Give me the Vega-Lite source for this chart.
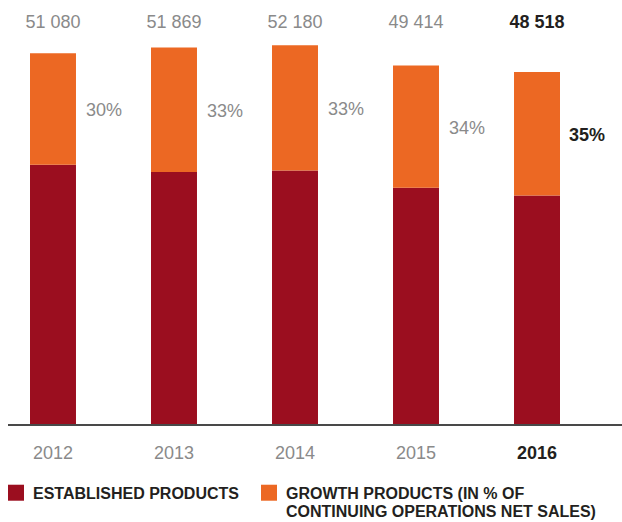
{
  "$schema": "https://vega.github.io/schema/vega-lite/v6.json",
  "autosize": "none",
  "width": 614,
  "height": 425,
  "padding": {"left": 8, "top": 0, "right": 0, "bottom": 97},
  "config": {
    "view": {"stroke": null},
    "font": "Liberation Sans",
    "text": {"font": "Liberation Sans"}
  },
  "data": {
    "values": [
      {"year": "2012", "total": 51080, "established": 35756, "growth": 15324, "totalLabel": "51 080", "share": "30%"},
      {"year": "2013", "total": 51869, "established": 34752, "growth": 17117, "totalLabel": "51 869", "share": "33%"},
      {"year": "2014", "total": 52180, "established": 34961, "growth": 17219, "totalLabel": "52 180", "share": "33%"},
      {"year": "2015", "total": 49414, "established": 32613, "growth": 16801, "totalLabel": "49 414", "share": "34%"},
      {"year": "2016", "total": 48518, "established": 31537, "growth": 16981, "totalLabel": "48 518", "share": "35%"}
    ]
  },
  "layer": [
    {
      "mark": {"type": "bar"},
      "encoding": {
        "x": {
          "field": "year",
          "type": "nominal",
          "scale": {"range": [22, 552], "paddingInner": 0.62, "paddingOuter": 0},
          "axis": {
            "title": null,
            "domain": false,
            "ticks": false,
            "labelAngle": 0,
            "labelFontSize": 18,
            "labelPadding": 19,
            "labelColor": {"condition": {"test": "datum.value == '2016'", "value": "#231f20"}, "value": "#8a8a8a"},
            "labelFontWeight": {"condition": {"test": "datum.value == '2016'", "value": "bold"}, "value": "normal"}
          }
        },
        "y": {"field": "established", "type": "quantitative", "scale": {"domain": [0, 58400], "nice": false, "zero": true}, "axis": null},
        "color": {
          "datum": "Established",
          "type": "nominal",
          "scale": {"domain": ["Established", "Growth"], "range": ["#9b0e1f", "#ec6823"]},
          "legend": {
            "title": null,
            "orient": "none",
            "direction": "horizontal",
            "legendX": 0,
            "legendY": 478,
            "symbolType": "M-1,-0.16H1V1.84H-1Z",
            "symbolSize": 256,
            "symbolStrokeWidth": 0,
            "symbolOpacity": 1,
            "labelFont": "Liberation Sans",
            "labelFontSize": 16,
            "labelFontWeight": "bold",
            "labelColor": "#231f20",
            "labelBaseline": "top",
            "labelOffset": 9,
            "labelLimit": 400,
            "columnPadding": 22,
            "labelExpr": "datum.value == 'Growth' ? ['GROWTH PRODUCTS (IN % OF', 'CONTINUING OPERATIONS NET SALES)'] : ['ESTABLISHED PRODUCTS', '']"
          }
        }
      }
    },
    {
      "mark": {"type": "bar"},
      "encoding": {
        "x": {"field": "year", "type": "nominal"},
        "y": {"field": "established", "type": "quantitative"},
        "y2": {"field": "total"},
        "color": {"datum": "Growth", "type": "nominal"}
      }
    },
    {
      "mark": {"type": "rule", "color": "#4a4a4a", "strokeWidth": 1.3},
      "encoding": {"y": {"datum": 0, "type": "quantitative"}}
    },
    {
      "transform": [{"filter": "datum.year != '2016'"}],
      "mark": {"type": "text", "fontSize": 18, "color": "#8a8a8a", "baseline": "middle", "align": "center"},
      "encoding": {
        "x": {"field": "year", "type": "nominal"},
        "y": {"datum": 55300, "type": "quantitative"},
        "text": {"field": "totalLabel"}
      }
    },
    {
      "transform": [{"filter": "datum.year == '2016'"}],
      "mark": {"type": "text", "fontSize": 18, "fontWeight": "bold", "color": "#231f20", "baseline": "middle", "align": "center"},
      "encoding": {
        "x": {"field": "year", "type": "nominal"},
        "y": {"datum": 55300, "type": "quantitative"},
        "text": {"field": "totalLabel"}
      }
    },
    {
      "transform": [{"calculate": "datum.established + datum.growth / 2", "as": "mid"}, {"filter": "datum.year != '2016'"}],
      "mark": {"type": "text", "fontSize": 18, "color": "#8a8a8a", "baseline": "middle", "align": "left", "dx": 33, "dy": 2},
      "encoding": {
        "x": {"field": "year", "type": "nominal"},
        "y": {"field": "mid", "type": "quantitative"},
        "text": {"field": "share"}
      }
    },
    {
      "transform": [{"calculate": "datum.established + datum.growth / 2", "as": "mid"}, {"filter": "datum.year == '2016'"}],
      "mark": {"type": "text", "fontSize": 18, "fontWeight": "bold", "color": "#231f20", "baseline": "middle", "align": "left", "dx": 32, "dy": 2},
      "encoding": {
        "x": {"field": "year", "type": "nominal"},
        "y": {"field": "mid", "type": "quantitative"},
        "text": {"field": "share"}
      }
    }
  ]
}
